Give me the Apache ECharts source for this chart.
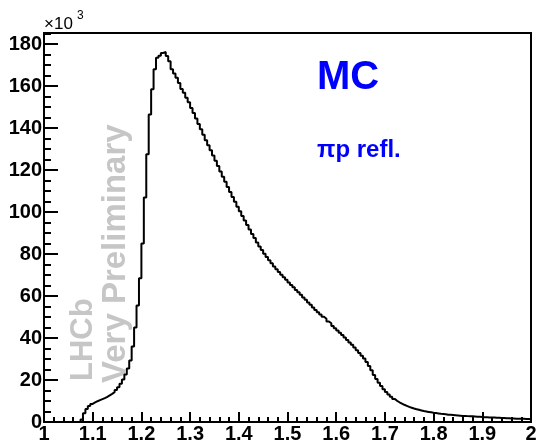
<!DOCTYPE html>
<html>
<head>
<meta charset="utf-8">
<script src="https://cdn.jsdelivr.net/npm/echarts@6.0.0/dist/echarts.min.js"></script>
<style>
  html, body { margin: 0; padding: 0; background: #fff; }
  #chart { width: 537px; height: 446px; }
</style>
</head>
<body>
<div id="chart"></div>
<script>
// histogram: 200 bins of width 0.005 from 1.0 to 2.0, contents in units of 10^3
const binLow = 1.0
const binWidth = 0.005
const counts = [
  0, 0, 0, 0, 0, 0, 0, 0, 0, 0,
  0, 0, 0, 0, 0, 1.2, 4.2, 6.2, 7.6, 8.6,
  9.3, 9.9, 10.4, 10.9, 11.4, 12.0, 12.7, 13.4, 14.2, 15.3,
  16.6, 18.2, 20.2, 22.6, 25.5, 29.3, 36.0, 45.0, 55.5, 68.5,
  85.0, 107.0, 127.5, 146.5, 158.5, 168.0, 173.5, 174.5, 175.8, 176.3,
  174.3, 171.8, 168.0, 166.0, 164.0, 161.5, 158.6, 156.8, 154.5, 152.3,
  149.6, 147.2, 144.6, 142.0, 139.4, 136.8, 134.2, 131.8, 129.5, 127.0,
  124.4, 121.9, 119.3, 116.8, 114.4, 111.9, 109.6, 107.2, 104.9, 102.5,
  100.4, 98.1, 96.0, 93.8, 91.7, 89.5, 87.6, 85.5, 83.6, 81.9,
  80.1, 78.6, 77.0, 75.6, 74.1, 72.8, 71.4, 70.2, 69.0, 67.8,
  66.5, 65.3, 64.2, 62.9, 61.8, 60.6, 59.3, 58.2, 56.9, 55.8,
  54.6, 53.4, 52.3, 51.2, 50.1, 49.2, 47.9, 47.0, 45.7, 44.6,
  43.6, 42.5, 41.5, 40.2, 39.1, 37.9, 36.8, 35.5, 34.2, 32.9,
  31.6, 30.2, 28.6, 26.7, 24.6, 22.4, 20.5, 18.7, 17.1, 15.6,
  14.3, 13.1, 12.0, 11.0, 10.1, 9.4, 8.8, 8.2, 7.7, 7.2,
  6.8, 6.4, 6.1, 5.8, 5.5, 5.2, 5.0, 4.8, 4.6, 4.4,
  4.3, 4.1, 3.9, 3.8, 3.7, 3.5, 3.4, 3.3, 3.2, 3.1,
  3.0, 2.9, 2.9, 2.8, 2.7, 2.7, 2.6, 2.5, 2.5, 2.4,
  2.3, 2.3, 2.2, 2.2, 2.1, 2.0, 2.0, 1.9, 1.9, 1.8,
  1.8, 1.7, 1.7, 1.6, 1.6, 1.5, 1.5, 1.4, 1.4, 1.3
]

const xRange = [1, 2]
const yRange = [0, 185.3]
const xStep = 0.1
const yStep = 20

const titleText = 'MC'
const subText = 'πp refl.'
const watermark = ['LHCb', 'Very Preliminary']

const labelFont = 'Liberation Sans, Arial, Helvetica, sans-serif'

// step points at the lower bin edges, plus the upper edge of the last bin
const histPoints = counts.map((c, i) => [+(binLow + i * binWidth).toFixed(3), c])
histPoints.push([+(binLow + counts.length * binWidth).toFixed(3), counts[counts.length - 1]])

const chart = echarts.init(document.getElementById('chart'), null, { renderer: 'canvas' })

chart.setOption({
  animation: false,
  backgroundColor: '#fff',
  grid: {
    left: 44, right: 6, top: 33, bottom: 24,
    show: true, borderColor: '#000', borderWidth: 2,
    containLabel: false, outerBoundsMode: 'none'
  },
  xAxis: {
    type: 'value',
    min: xRange[0], max: xRange[1], interval: xStep,
    axisLine: { show: true, onZero: false, lineStyle: { color: '#000', width: 2 } },
    axisTick: { show: true, inside: true, length: 10, lineStyle: { color: '#000', width: 2 } },
    minorTick: { show: true, splitNumber: 5, length: 5, lineStyle: { color: '#000', width: 2 } },
    splitLine: { show: false },
    axisLabel: {
      margin: 2, color: '#000', fontFamily: labelFont, fontWeight: 'bold', fontSize: 20,
      hideOverlap: false
    }
  },
  yAxis: {
    type: 'value',
    min: yRange[0], max: yRange[1], interval: yStep,
    axisLine: { show: true, onZero: false, lineStyle: { color: '#000', width: 2 } },
    axisTick: { show: true, inside: true, length: 14, lineStyle: { color: '#000', width: 2 } },
    minorTick: { show: true, splitNumber: 4, length: 7, lineStyle: { color: '#000', width: 2 } },
    splitLine: { show: false },
    axisLabel: {
      margin: 2, color: '#000', fontFamily: labelFont, fontWeight: 'bold', fontSize: 20,
      showMaxLabel: false, hideOverlap: false
    }
  },
  series: [{
    type: 'line',
    step: 'end',
    data: histPoints,
    symbol: 'none',
    clip: true,
    lineStyle: { color: '#000', width: 2 },
    z: 3
  }],
  graphic: [
    {
      type: 'text', x: 44, y: 33,
      style: { text: '×10', font: '17px ' + labelFont, fill: '#000', align: 'left', verticalAlign: 'bottom', textAlign: 'left', textVerticalAlign: 'bottom' }
    },
    {
      type: 'text', x: 77, y: 10,
      style: { text: '3', font: '12px ' + labelFont, fill: '#000', align: 'left', verticalAlign: 'top', textAlign: 'left', textVerticalAlign: 'top' }
    },
    {
      type: 'text', x: 317, y: 78,
      style: { text: titleText, font: 'bold 40px ' + labelFont, fill: '#0000ff', align: 'left', verticalAlign: 'middle', textAlign: 'left', textVerticalAlign: 'middle' }
    },
    {
      type: 'text', x: 317, y: 150,
      style: { text: subText, font: 'bold 24px ' + labelFont, fill: '#0000ff', align: 'left', verticalAlign: 'middle', textAlign: 'left', textVerticalAlign: 'middle' }
    },
    {
      type: 'text', x: 83, y: 381, rotation: Math.PI / 2,
      style: { text: watermark[0], font: 'bold 31px ' + labelFont, fill: '#c6c6c6', align: 'left', verticalAlign: 'middle', textAlign: 'left', textVerticalAlign: 'middle' }
    },
    {
      type: 'text', x: 116, y: 383, rotation: Math.PI / 2,
      style: { text: watermark[1], font: 'bold 33px ' + labelFont, fill: '#c6c6c6', align: 'left', verticalAlign: 'middle', textAlign: 'left', textVerticalAlign: 'middle' }
    }
  ]
})
</script>
</body>
</html>
